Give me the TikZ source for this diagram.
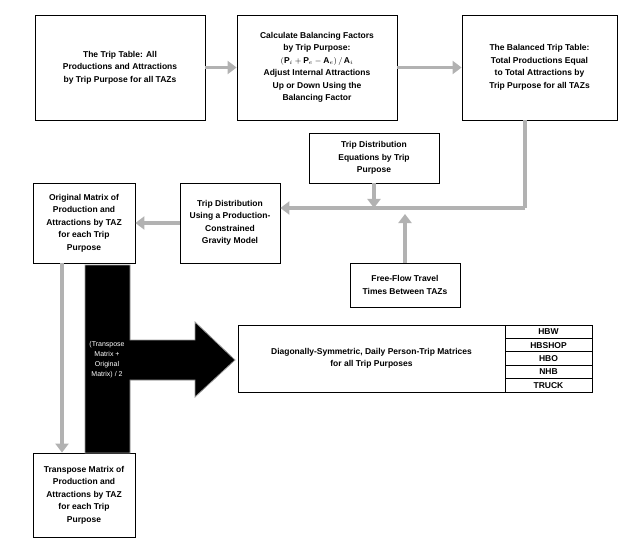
\documentclass[tikz,border=0pt]{standalone}
\usepackage{fontspec}
\setmainfont{Liberation Sans}
\usetikzlibrary{arrows.meta}
\tikzset{
  box/.style={draw, thick, fill=white, align=center, font=\fontsize{8.5}{12.5}\selectfont\bfseries, inner sep=2pt},
  flow/.style={draw=black!30, line width=3.5pt, -{Triangle[length=9pt,width=13pt]}},
  flowline/.style={draw=black!30, line width=3.5pt}
}
\begin{document}
\begin{tikzpicture}[x=1pt,y=-1pt]
\useasboundingbox (0,0) rectangle (625,551);
% boxes
\node[box, minimum width=170, minimum height=105] (table) at (120,67.5) {The Trip Table: All\\Productions and Attractions\\by Trip Purpose for all TAZs};
\node[box, minimum width=160, minimum height=105] (factor) at (317,67.5) {Calculate Balancing Factors\\by Trip Purpose:\\$(\mathbf{P}_i+\mathbf{P}_e-\mathbf{A}_e)\,/\,\mathbf{A}_i$\\Adjust Internal Attractions\\Up or Down Using the\\Balancing Factor};
\node[box, minimum width=155, minimum height=105] (balanced) at (539.5,67.5) {The Balanced Trip Table:\\Total Productions Equal\\to Total Attractions by\\Trip Purpose for all TAZs};
\node[box, minimum width=130, minimum height=50] (equations) at (374,158) {Trip Distribution\\Equations by Trip\\Purpose};
\node[box, minimum width=100, minimum height=80] (gravity) at (230,223) {Trip Distribution\\Using a Production-\\Constrained\\Gravity Model};
\node[box, minimum width=102, minimum height=80] (original) at (84,223) {Original Matrix of\\Production and\\Attractions by TAZ\\for each Trip\\Purpose};
\node[box, minimum width=110, minimum height=44] (freeflow) at (405,285) {Free-Flow Travel\\Times Between TAZs};
\node[box, minimum width=267, minimum height=67] (symmetric) at (371.5,358.5) {Diagonally-Symmetric, Daily Person-Trip Matrices\\for all Trip Purposes};
\node[box, minimum width=102, minimum height=84] (transpose) at (84,495) {Transpose Matrix of\\Production and\\Attractions by TAZ\\for each Trip\\Purpose};
% purpose table
\foreach \p [count=\i] in {HBW,HBSHOP,HBO,NHB,TRUCK}
  \node[box, minimum width=87, minimum height=13.4, inner sep=0pt] (purpose\i) at (548.5,325+13.4*\i-6.7) {\p};
% connectors
\draw[flow] (table) -- (factor);
\draw[flow] (factor) -- (balanced);
\coordinate (corner) at (525,208);
\draw[flowline] (balanced.south -| corner) -- (corner);
\draw[flow] (corner) -- (gravity.east |- corner);
\draw[flow] (equations.south) -- (374,208);
\draw[flow] (freeflow.north) -- (405,214);
\draw[flow] (gravity) -- (original);
\draw[flow] (original.south -| 62,0) -- (transpose.north -| 62,0);
% averaging arrow
\draw[draw=black!40, fill=black, thick] (85,265) -- (130,265) -- (130,340) -- (195,340) -- (195,322) -- (235,360) -- (195,397) -- (195,380) -- (130,380) -- (130,453) -- (85,453) -- cycle;
\node[text=white, align=center, font=\fontsize{7}{10}\selectfont] (average) at (107,360) {(Transpose\\Matrix +\\Original\\Matrix) / 2};
\end{tikzpicture}
\end{document}
